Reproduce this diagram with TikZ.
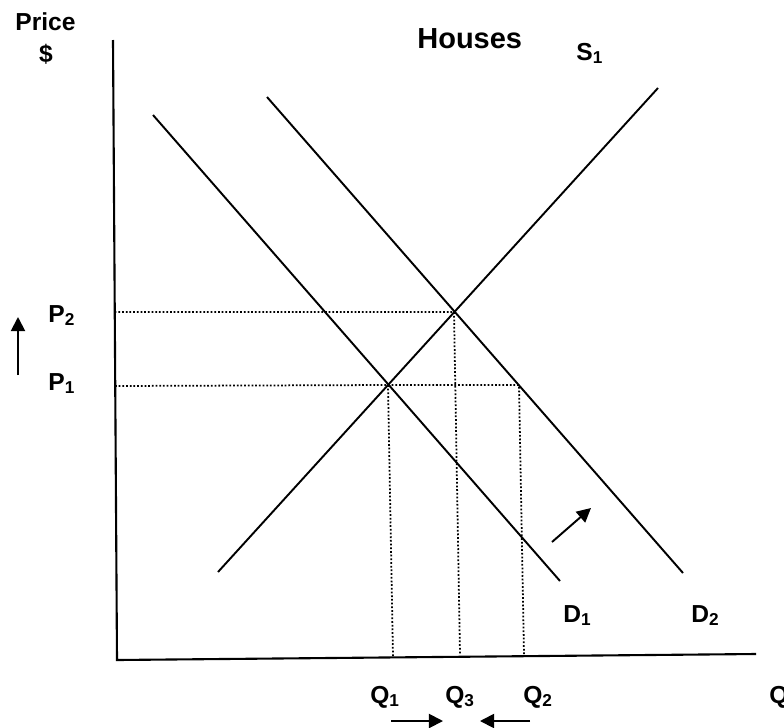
\documentclass[tikz,border=0pt]{standalone}
\usepackage{fontspec}
\setmainfont{Liberation Sans}
\usetikzlibrary{arrows.meta}
\tikzset{
  curve/.style={line width=1.1pt},
  axis/.style={line width=1.2pt},
  guide/.style={line width=1pt, dash pattern=on 1pt off 1.1pt},
  lbl/.style={font=\bfseries\fontsize{14pt}{16pt}\selectfont, inner sep=0pt, anchor=base west},
  shiftarrow/.style={-{Triangle[length=8pt,width=8pt]}, line width=1.1pt}
}
\newcommand{\dn}[1]{\textsubscript{#1}}
\begin{document}
\begin{tikzpicture}[x=0.02cm,y=-0.02cm]
    \useasboundingbox (0,0) rectangle (784,727);
    %assi
    \draw[axis] (113,40) -- (117,660) -- (756,654);
    %offerta e domanda
    \draw[curve] (218,572) -- (658,88);
    \draw[curve] (153,115) -- (560,581);
    \draw[curve] (267,97) -- (683,573);
    %equilibri
    \coordinate (e1) at (388,385);
    \coordinate (e2) at (454,312);
    \coordinate (e3) at (519,385);
    %tratteggi
    \draw[guide] (115,386) -- (e1) -- (e3) -- (524,655);
    \draw[guide] (114.7,312) -- (e2) -- (460,655);
    \draw[guide] (e1) -- (393,657);
    %label
    \node[lbl] (price) at (15,30) {Price};
    \node[lbl, anchor=base] (dollar) at (46,62) {\$};
    \node[lbl, font=\bfseries\fontsize{16.5pt}{19pt}\selectfont] (title) at (417,48) {Houses};
    \node[lbl] (s1) at (576,60) {S\dn{1}};
    \node[lbl] (p2) at (48,322) {P\dn{2}};
    \node[lbl] (p1) at (48,390) {P\dn{1}};
    \node[lbl] (q1) at (370,703) {Q\dn{1}};
    \node[lbl] (q3) at (445,703) {Q\dn{3}};
    \node[lbl] (q2) at (523,703) {Q\dn{2}};
    \node[lbl] (q) at (769,703) {Q};
    \node[lbl] (d1) at (563,622) {D\dn{1}};
    \node[lbl] (d2) at (691,622) {D\dn{2}};
    %frecce
    \draw[shiftarrow] (18,375) -- (18,317);
    \draw[shiftarrow] (552,542) -- (591,508);
    \draw[shiftarrow] (391,721) -- (443,721);
    \draw[shiftarrow] (530,721) -- (480,721);
\end{tikzpicture}
\end{document}
